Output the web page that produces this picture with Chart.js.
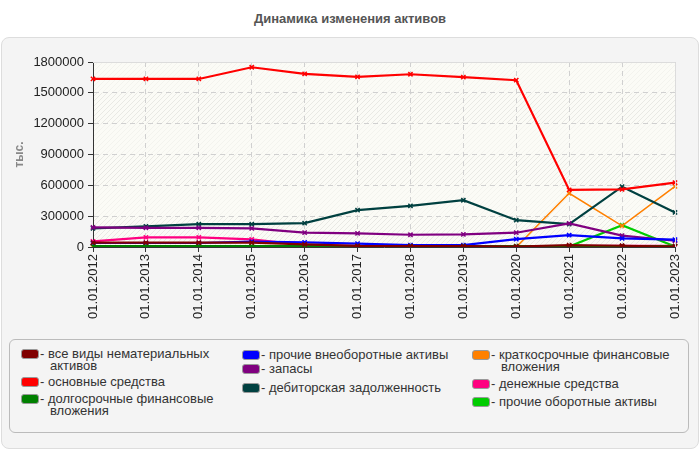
<!DOCTYPE html>
<html><head><meta charset="utf-8">
<script src="https://cdn.jsdelivr.net/npm/chart.js@4.4.0/dist/chart.umd.min.js"></script>
<style>
html,body{margin:0;padding:0;background:#fff;width:700px;height:450px;overflow:hidden;font-family:"Liberation Sans",Arial,sans-serif;}
#title{position:absolute;left:0;top:11px;width:700px;text-align:center;font-weight:bold;font-size:13px;color:#555;}
#panel{position:absolute;left:1px;top:37px;width:696px;height:410px;background:#f4f4f4;border:1px solid #ddd;border-radius:8px;}
#cv{position:absolute;left:0;top:40px;width:700px;height:295px;}
#legend{position:absolute;left:9px;top:339px;width:678px;height:92px;border:1px solid #bbb;border-radius:6px;background:#f4f4f4;}
.li{position:absolute;font-size:13px;line-height:12px;color:#333;}
.sw{position:absolute;width:16px;height:8px;border:1px solid #999;border-radius:3px;}
</style></head>
<body>
<div id="title">Динамика изменения активов</div>
<div id="panel"></div>
<canvas id="cv" width="700" height="295"></canvas>
<div id="legend"></div>
<script>
const categories = ["01.01.2012","01.01.2013","01.01.2014","01.01.2015","01.01.2016","01.01.2017","01.01.2018","01.01.2019","01.01.2020","01.01.2021","01.01.2022","01.01.2023"];
const seriesNames = ["все виды нематериальных активов","основные средства","долгосрочные финансовые вложения","прочие внеоборотные активы","запасы","дебиторская задолженность","краткосрочные финансовые вложения","денежные средства","прочие оборотные активы"];
const intangibles = [42000,42000,42000,42000,26000,10000,8000,8000,5000,19000,12000,5000];
const fixedAssets = [1635000,1635000,1635000,1749000,1684000,1655000,1681000,1652000,1623000,555000,561000,626000];
const longTermInv = [8000,8000,8000,8000,8000,8000,8000,8000,8000,8000,8000,8000];
const otherNonCurrent = [39000,39000,39000,52000,45000,32000,19000,19000,77000,116000,84000,71000];
const inventories = [190000,187000,187000,181000,139000,132000,119000,123000,139000,229000,110000,61000];
const receivables = [181000,200000,222000,222000,232000,358000,400000,455000,261000,222000,587000,336000];
const shortTermInv = [0,0,0,0,0,0,0,0,0,523000,206000,590000];
const cash = [55000,94000,94000,74000,19000,8000,6000,6000,6000,8000,10000,10000];
const otherCurrent = [5000,5000,5000,5000,5000,5000,5000,5000,5000,5000,213000,5000];
const yTicks = [0,300000,600000,900000,1200000,1500000,1800000];
const yTitle = "тыс.";

const colors = ["#800000","#ff0000","#008000","#0000ff","#800080","#004040","#ff8000","#ff0080","#00cc00"];
const values = [intangibles,fixedAssets,longTermInv,otherNonCurrent,inventories,receivables,shortTermInv,cash,otherCurrent];

const datasets = values.map((v,i)=>({
  label: seriesNames[i], data: v, borderColor: colors[i], backgroundColor: colors[i],
  borderWidth: i===6?1.5:2.2, pointStyle:'crossRot', pointRadius:3, pointBorderWidth:1.5,
  pointBorderColor: colors[i], tension:0, fill:false
}));

const bgPlugin = {
  id:'bg',
  beforeDraw(chart){
    const {ctx, chartArea:a, scales:{y}} = chart;
    ctx.save();
    ctx.fillStyle = '#fbfbf6';
    ctx.fillRect(a.left,a.top,a.right-a.left,a.bottom-a.top);
    const pc = document.createElement('canvas'); pc.width=5; pc.height=5;
    const p = pc.getContext('2d');
    p.strokeStyle='rgba(0,0,0,0.07)'; p.lineWidth=1;
    p.beginPath(); p.moveTo(0,5); p.lineTo(5,0); p.stroke();
    const pat = ctx.createPattern(pc,'repeat');
    for(let k=0;k<yTicks.length-1;k++){
      const y1 = y.getPixelForValue(yTicks[k]), y2 = y.getPixelForValue(yTicks[k+1]);
      ctx.fillStyle = pat;
      ctx.globalAlpha = (k%2===0)?1:0.45;
      ctx.fillRect(a.left,y2,a.right-a.left,y1-y2);
    }
    ctx.globalAlpha=1;
    ctx.restore();
  },
  afterDatasetsDraw(chart){
    const {ctx, chartArea:a} = chart;
    ctx.save();
    ctx.strokeStyle='#dcdcdc'; ctx.lineWidth=1;
    ctx.beginPath();
    ctx.moveTo(a.left,a.top+0.5); ctx.lineTo(a.right+0.5,a.top+0.5); ctx.lineTo(a.right+0.5,a.bottom);
    ctx.stroke();
    ctx.restore();
  }
};

new Chart(document.getElementById('cv'), {
  type:'line',
  data:{labels:categories, datasets},
  options:{
    responsive:false, animation:false, devicePixelRatio:1,
    layout:{padding:{left:0,top:22,right:25,bottom:0}},
    plugins:{legend:{display:false}, tooltip:{enabled:false}},
    scales:{
      x:{
        offset:false,
        grid:{color:'#d0d0d0', tickColor:'#333', tickLength:5, drawOnChartArea:true},
        border:{color:'#333', width:1, dash:[5,4]},
        ticks:{minRotation:90, maxRotation:90, color:'#222', font:{family:'"Liberation Sans", Arial', size:13}, padding:2, autoSkip:false},
        afterFit(s){ s.height = 88; }
      },
      y:{
        min:0, max:1800000,
        afterBuildTicks(s){ s.ticks = yTicks.map(v=>({value:v})); },
        grid:{color:'#d0d0d0', tickColor:'#333', tickLength:5},
        border:{color:'#333', width:1, dash:[5,4]},
        ticks:{color:'#222', font:{family:'"Liberation Sans", Arial', size:13}, padding:4, callback:(v)=>String(v)},
        title:{display:true, text:yTitle, color:'#888', font:{family:'"Liberation Sans", Arial', size:12, weight:'bold'}, padding:{top:12,bottom:0}},
        afterFit(s){ s.width = 93; }
      }
    }
  },
  plugins:[bgPlugin]
});

const legendLayout = [
  {x:21, y:348, lines:["все виды нематериальных","активов"]},
  {x:21, y:376, lines:["основные средства"]},
  {x:21, y:393, lines:["долгосрочные финансовые","вложения"]},
  {x:242, y:349, lines:["прочие внеоборотные активы"]},
  {x:242, y:363, lines:["запасы"]},
  {x:242, y:382, lines:["дебиторская задолженность"]},
  {x:472, y:349, lines:["краткосрочные финансовые","вложения"]},
  {x:472, y:378, lines:["денежные средства"]},
  {x:472, y:396, lines:["прочие оборотные активы"]}
];
legendLayout.forEach((L,i)=>{
  const sw = document.createElement('div'); sw.className='sw';
  sw.style.left=L.x+'px'; sw.style.top=(L.y+1)+'px'; sw.style.background=colors[i];
  document.body.appendChild(sw);
  const d1 = document.createElement('div'); d1.className='li';
  d1.style.left=(L.x+19)+'px'; d1.style.top=L.y+'px';
  d1.textContent='- '+L.lines[0];
  document.body.appendChild(d1);
  if(L.lines[1]){
    const d2 = document.createElement('div'); d2.className='li';
    d2.style.left=(L.x+29)+'px'; d2.style.top=(L.y+12)+'px';
    d2.textContent=L.lines[1];
    document.body.appendChild(d2);
  }
});
</script>
</body></html>
